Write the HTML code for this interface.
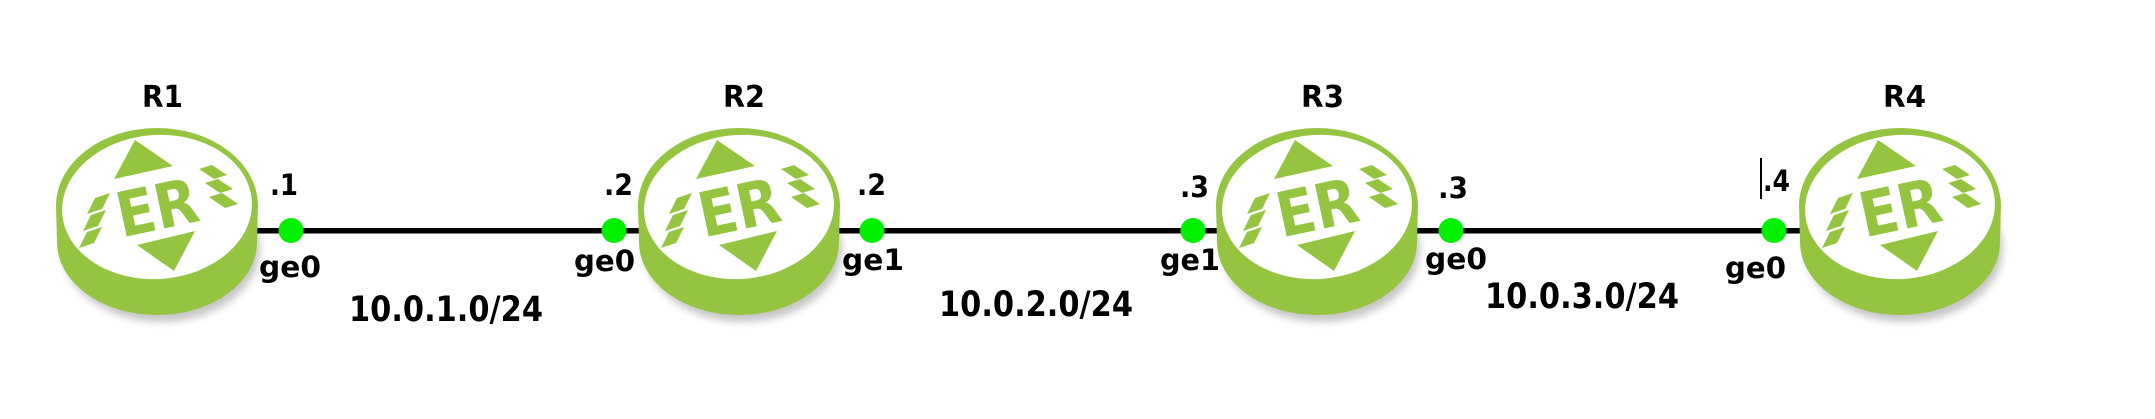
<!DOCTYPE html>
<html>
<head>
<meta charset="utf-8">
<style>
  html, body { margin: 0; padding: 0; background: #ffffff; }
  svg { display: block; }
  text { font-family: "DejaVu Sans", "Liberation Sans", sans-serif; font-weight: bold; }
</style>
</head>
<body>
<svg width="2155" height="419" viewBox="0 0 2155 419" xmlns="http://www.w3.org/2000/svg">
  <defs>
    <filter id="blur" x="-20%" y="-20%" width="140%" height="140%">
      <feGaussianBlur stdDeviation="4"/>
    </filter>
  </defs>
  <rect x="0" y="0" width="2155" height="419" fill="#ffffff"/>

  <!-- links -->
  <rect x="240" y="228" width="410" height="5.5" fill="#000"/>
  <rect x="825" y="228" width="405" height="5.5" fill="#000"/>
  <rect x="1405" y="228" width="405" height="5.5" fill="#000"/>

  <!-- R1 -->
  <g transform="translate(157,207)">
    <ellipse cx="4" cy="42" rx="99" ry="73" fill="#000" opacity="0.22" filter="url(#blur)"/>
    <path d="M-101,-1 A101,78 0 0 1 101,-1 L100,35 A100,73 0 0 1 -100,35 Z" fill="#94c440"/>
    <ellipse cx="0" cy="0" rx="95" ry="72" fill="#fff" transform="rotate(-4)"/>
    <polygon points="-22,-67 -43,-28 16,-41" fill="#94c440"/>
    <polygon points="-20,38 38,24 17,64" fill="#94c440"/>
    <text x="0" y="0" transform="translate(4.7,22) rotate(-12)" font-size="62" text-anchor="middle" fill="#94c440" textLength="82" lengthAdjust="spacingAndGlyphs">ER</text>
    <polygon points="-62,-9 -47,-14 -55,2 -70,7" fill="#94c440"/>
    <polygon points="-66,8 -51,3 -59,19 -74,24" fill="#94c440"/>
    <polygon points="-70,25 -55,20 -63,36 -78,41" fill="#94c440"/>
    <polygon points="42,-38 55,-42 70,-32 57,-28" fill="#94c440"/>
    <polygon points="48,-24 61,-28 76,-18 63,-14" fill="#94c440"/>
    <polygon points="52,-10 65,-14 81,-3 68,1" fill="#94c440"/>
  </g>

  <!-- R2 -->
  <g transform="translate(739,207)">
    <ellipse cx="4" cy="42" rx="99" ry="73" fill="#000" opacity="0.22" filter="url(#blur)"/>
    <path d="M-101,-1 A101,78 0 0 1 101,-1 L100,35 A100,73 0 0 1 -100,35 Z" fill="#94c440"/>
    <ellipse cx="0" cy="0" rx="95" ry="72" fill="#fff" transform="rotate(-4)"/>
    <polygon points="-22,-67 -43,-28 16,-41" fill="#94c440"/>
    <polygon points="-20,38 38,24 17,64" fill="#94c440"/>
    <text x="0" y="0" transform="translate(4.7,22) rotate(-12)" font-size="62" text-anchor="middle" fill="#94c440" textLength="82" lengthAdjust="spacingAndGlyphs">ER</text>
    <polygon points="-62,-9 -47,-14 -55,2 -70,7" fill="#94c440"/>
    <polygon points="-66,8 -51,3 -59,19 -74,24" fill="#94c440"/>
    <polygon points="-70,25 -55,20 -63,36 -78,41" fill="#94c440"/>
    <polygon points="42,-38 55,-42 70,-32 57,-28" fill="#94c440"/>
    <polygon points="48,-24 61,-28 76,-18 63,-14" fill="#94c440"/>
    <polygon points="52,-10 65,-14 81,-3 68,1" fill="#94c440"/>
  </g>

  <!-- R3 -->
  <g transform="translate(1317,207)">
    <ellipse cx="4" cy="42" rx="99" ry="73" fill="#000" opacity="0.22" filter="url(#blur)"/>
    <path d="M-101,-1 A101,78 0 0 1 101,-1 L100,35 A100,73 0 0 1 -100,35 Z" fill="#94c440"/>
    <ellipse cx="0" cy="0" rx="95" ry="72" fill="#fff" transform="rotate(-4)"/>
    <polygon points="-22,-67 -43,-28 16,-41" fill="#94c440"/>
    <polygon points="-20,38 38,24 17,64" fill="#94c440"/>
    <text x="0" y="0" transform="translate(4.7,22) rotate(-12)" font-size="62" text-anchor="middle" fill="#94c440" textLength="82" lengthAdjust="spacingAndGlyphs">ER</text>
    <polygon points="-62,-9 -47,-14 -55,2 -70,7" fill="#94c440"/>
    <polygon points="-66,8 -51,3 -59,19 -74,24" fill="#94c440"/>
    <polygon points="-70,25 -55,20 -63,36 -78,41" fill="#94c440"/>
    <polygon points="42,-38 55,-42 70,-32 57,-28" fill="#94c440"/>
    <polygon points="48,-24 61,-28 76,-18 63,-14" fill="#94c440"/>
    <polygon points="52,-10 65,-14 81,-3 68,1" fill="#94c440"/>
  </g>

  <!-- R4 -->
  <g transform="translate(1900,207)">
    <ellipse cx="4" cy="42" rx="99" ry="73" fill="#000" opacity="0.22" filter="url(#blur)"/>
    <path d="M-101,-1 A101,78 0 0 1 101,-1 L100,35 A100,73 0 0 1 -100,35 Z" fill="#94c440"/>
    <ellipse cx="0" cy="0" rx="95" ry="72" fill="#fff" transform="rotate(-4)"/>
    <polygon points="-22,-67 -43,-28 16,-41" fill="#94c440"/>
    <polygon points="-20,38 38,24 17,64" fill="#94c440"/>
    <text x="0" y="0" transform="translate(4.7,22) rotate(-12)" font-size="62" text-anchor="middle" fill="#94c440" textLength="82" lengthAdjust="spacingAndGlyphs">ER</text>
    <polygon points="-62,-9 -47,-14 -55,2 -70,7" fill="#94c440"/>
    <polygon points="-66,8 -51,3 -59,19 -74,24" fill="#94c440"/>
    <polygon points="-70,25 -55,20 -63,36 -78,41" fill="#94c440"/>
    <polygon points="42,-38 55,-42 70,-32 57,-28" fill="#94c440"/>
    <polygon points="48,-24 61,-28 76,-18 63,-14" fill="#94c440"/>
    <polygon points="52,-10 65,-14 81,-3 68,1" fill="#94c440"/>
  </g>

  <!-- interface dots -->
  <g fill="#00f000">
    <circle cx="291" cy="230.5" r="12.5"/>
    <circle cx="614" cy="230.5" r="12.5"/>
    <circle cx="872" cy="230.5" r="12.5"/>
    <circle cx="1193" cy="230.5" r="12.5"/>
    <circle cx="1451" cy="230.5" r="12.5"/>
    <circle cx="1774" cy="230.5" r="12.5"/>
  </g>

  <!-- router names -->
  <g fill="#000" font-size="30">
    <text x="142" y="107" textLength="41" lengthAdjust="spacingAndGlyphs">R1</text>
    <text x="723" y="107" textLength="42" lengthAdjust="spacingAndGlyphs">R2</text>
    <text x="1301" y="107" textLength="43" lengthAdjust="spacingAndGlyphs">R3</text>
    <text x="1883" y="107" textLength="43" lengthAdjust="spacingAndGlyphs">R4</text>
  </g>

  <!-- host addresses -->
  <g fill="#000" font-size="29">
    <text x="270" y="195" textLength="28" lengthAdjust="spacingAndGlyphs">.1</text>
    <text x="604" y="195" textLength="29" lengthAdjust="spacingAndGlyphs">.2</text>
    <text x="857" y="195" textLength="29" lengthAdjust="spacingAndGlyphs">.2</text>
    <text x="1180" y="197" textLength="29" lengthAdjust="spacingAndGlyphs">.3</text>
    <text x="1438" y="198" textLength="30" lengthAdjust="spacingAndGlyphs">.3</text>
    <text x="1763" y="191" textLength="27" lengthAdjust="spacingAndGlyphs">.4</text>
  </g>
  <!-- text cursor -->
  <rect x="1760" y="158" width="2" height="41" fill="#000"/>

  <!-- interface names -->
  <g fill="#000" font-size="29">
    <text x="259" y="277" textLength="62" lengthAdjust="spacingAndGlyphs">ge0</text>
    <text x="574" y="271" textLength="61" lengthAdjust="spacingAndGlyphs">ge0</text>
    <text x="842" y="270" textLength="62" lengthAdjust="spacingAndGlyphs">ge1</text>
    <text x="1160" y="270" textLength="60" lengthAdjust="spacingAndGlyphs">ge1</text>
    <text x="1425" y="269" textLength="62" lengthAdjust="spacingAndGlyphs">ge0</text>
    <text x="1725" y="278" textLength="61" lengthAdjust="spacingAndGlyphs">ge0</text>
  </g>

  <!-- subnets -->
  <g fill="#000" font-size="34.5">
    <text x="349" y="321" textLength="194" lengthAdjust="spacingAndGlyphs">10.0.1.0/24</text>
    <text x="939" y="316" textLength="194" lengthAdjust="spacingAndGlyphs">10.0.2.0/24</text>
    <text x="1485" y="308" textLength="194" lengthAdjust="spacingAndGlyphs">10.0.3.0/24</text>
  </g>
</svg>
</body>
</html>
